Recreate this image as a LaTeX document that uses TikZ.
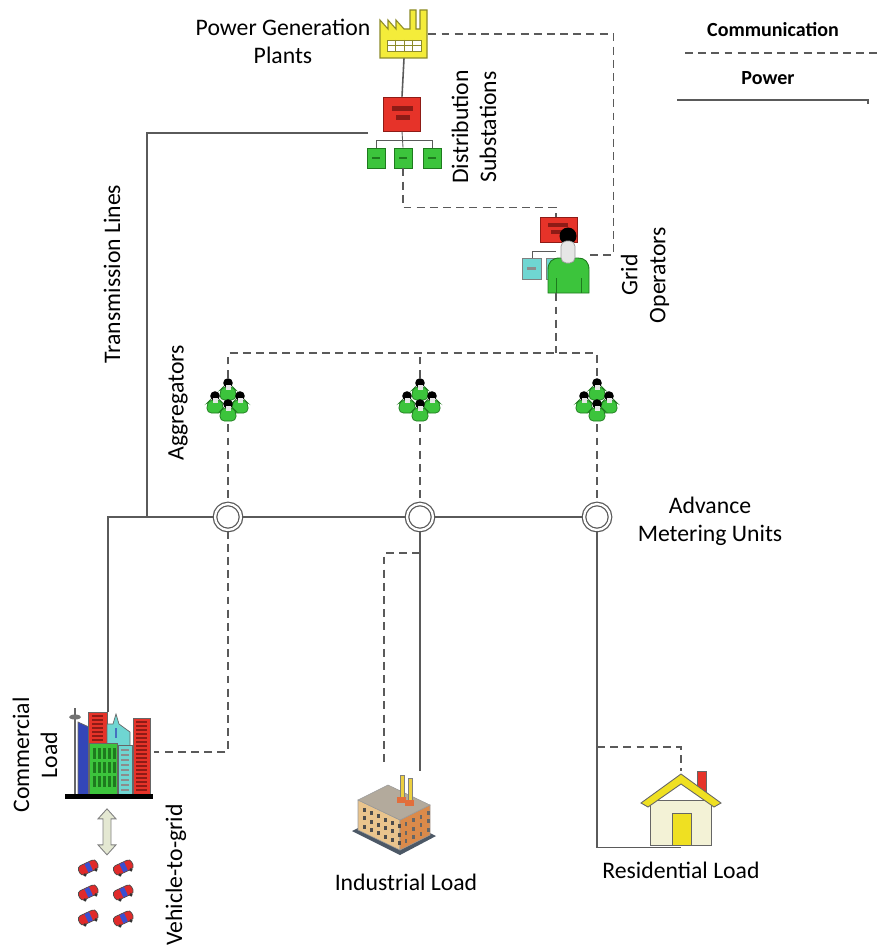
\documentclass[tikz,border=0pt]{standalone}
\usepackage{fontspec}
\setmainfont{Carlito}
\usetikzlibrary{calc}

\definecolor{wire}{HTML}{5A5A5A}
\definecolor{plantyellow}{HTML}{F4EC3A}
\definecolor{plantedge}{HTML}{8C8A2A}
\definecolor{subred}{HTML}{E63329}
\definecolor{subdark}{HTML}{8E1B16}
\definecolor{boxgreen}{HTML}{3CC43C}
\definecolor{boxdark}{HTML}{1E7A1E}
\definecolor{boxcyan}{HTML}{6FD6D2}
\definecolor{facegray}{HTML}{E6E6E6}
\definecolor{towerblue}{HTML}{3346B8}
\definecolor{carred}{HTML}{E02A2A}
\definecolor{carblue}{HTML}{3A4FD0}
\definecolor{arrowfill}{HTML}{E4E8D2}
\definecolor{walltan}{HTML}{E9C48D}
\definecolor{wallorange}{HTML}{DB8A4A}
\definecolor{roofgray}{HTML}{B3AA9C}
\definecolor{slate}{HTML}{4C5866}
\definecolor{housebody}{HTML}{F3F2D6}
\definecolor{houseyellow}{HTML}{EFE022}

\tikzset{
  power/.style={draw=wire, line width=0.9pt},
  comm/.style={draw=wire, line width=0.9pt, dash pattern=on 4.5pt off 3pt},
  lbl/.style={font=\fontsize{13.5}{16}\selectfont, align=center, inner sep=0pt},
  leg/.style={font=\fontsize{11.4}{13}\selectfont\bfseries, inner sep=0pt},
  icon/.style 2 args={inner sep=0pt, minimum width=#1*0.02cm, minimum height=#2*0.02cm},
  amu/.style={circle, draw=wire, double, double distance=1.3pt, line width=0.7pt,
    fill=white, inner sep=0pt, minimum size=0.52cm},
  gbox/.style={draw=boxdark, fill=boxgreen, line width=0.5pt, inner sep=0pt,
    minimum width=0.36cm, minimum height=0.4cm},
  person/.pic={
    \filldraw[fill=boxgreen, draw=boxdark, line width=0.4pt, rounded corners=2.5]
      (-8,17) -- (-8,7) -- (-5,4) -- (5,4) -- (8,7) -- (8,17) -- cycle;
    \fill[black] (0,0) circle (4.8);
    \fill[facegray] (-2.5,1.5) rectangle (2.5,6.5);
  },
  car/.pic={
    \filldraw[fill=carred, draw=black!70, line width=0.4pt, rounded corners=2]
      (-10,-4.5) rectangle (10,5.5);
    \fill[carblue] (-2,-4) rectangle (3,5);
    \fill[black!80] (-6,6) circle (1.8) (6,6) circle (1.8);
  },
}

\begin{document}
\begin{tikzpicture}[x=0.02cm, y=-0.02cm]
\useasboundingbox (0,0) rectangle (878,946);

% Legend
\node[leg] (lcomm) at (773,30) {Communication};
\node[leg] (lpow) at (768,78) {Power};
\coordinate (c1) at (685,53);
\coordinate (c2) at (878,53);
\coordinate (p1) at (677,100);
\coordinate (p2) at (868,104);
\draw[comm] (c1) -- (c2);
\draw[power] (p1) -| (p2);

% Power plant
\node[icon={48}{48}] (plant) at (404,34) {};
\filldraw[fill=plantyellow, draw=plantedge, line width=0.6pt]
  (380,58) -- (380,20) -- (388,29) -- (388,20) -- (396,29) -- (396,20) -- (404,29)
  -- (410,29) -- (410,10) -- (416,10) -- (416,29) -- (420,29) -- (420,10)
  -- (427,10) -- (427,58) -- cycle;
\filldraw[fill=white, draw=plantedge, line width=0.5pt] (387,40) rectangle (421,51);
\draw[plantedge, line width=0.4pt] (395.5,40) -- (395.5,51) (404,40) -- (404,51)
  (412.5,40) -- (412.5,51) (387,45.5) -- (421,45.5);

% Substation
\node[draw=subdark, fill=subred, line width=0.5pt, icon={37}{34}] (sub) at (402,114) {};
\fill[subdark] (392,106) rectangle (413,111);
\fill[subdark] (396,115) rectangle (410,120);
\node[gbox] (gb1) at (376,158) {};
\node[gbox] (gb2) at (403,158) {};
\node[gbox] (gb3) at (432,158) {};
\foreach \g in {gb1,gb2,gb3}
  \fill[boxdark] ($(\g)+(-4,-1)$) rectangle ($(\g)+(4,1)$);
\draw[wire, line width=0.5pt] (sub.south) -- (gb2.north);
\draw[wire, line width=0.5pt] (gb1.north) |- ($(sub.south)+(0,9)$) -| (gb3.north);

% Grid operator
\node[icon={68}{76}] (oper) at (556,255) {};
\filldraw[fill=subred, draw=subdark, line width=0.5pt] (540,217) rectangle (577,242);
\fill[subdark] (548,223) rectangle (568,227);
\fill[subdark] (551,230) rectangle (566,234);
\draw[wire, line width=0.5pt] (532,258) -- (532,251) -- (556,251);
\filldraw[fill=boxcyan, draw=black!50, line width=0.5pt] (546,258) rectangle (562,279);
\filldraw[fill=boxcyan, draw=black!50, line width=0.5pt] (522,258) rectangle (541,279);
\fill[black!45] (527,267) rectangle (536,270);
\fill[black] (568,236) circle (8.5);
\filldraw[fill=boxgreen, draw=boxdark, line width=0.5pt]
  (548,293) -- (548,270) .. controls (548,262) and (552,258) .. (560,258)
  -- (578,258) .. controls (585,258) and (589,262) .. (589,270) -- (589,293) -- cycle;
\draw[boxdark, line width=0.5pt] (556,278) -- (556,293) (581,278) -- (581,293);
\filldraw[fill=facegray, draw=black!40, line width=0.4pt, rounded corners=3]
  (561,241) rectangle (575,263);

% Aggregators
\node[icon={46}{46}] (agg1) at (228,401) {};
\node[icon={46}{46}] (agg2) at (420,401) {};
\node[icon={46}{46}] (agg3) at (597,401) {};
\foreach \n in {agg1,agg2,agg3} {
  \pic at ($(\n)+(0,-18)$) {person};
  \pic at ($(\n)+(-13,-5)$) {person};
  \pic at ($(\n)+(12,-5)$) {person};
  \pic at ($(\n)+(0,3)$) {person};
}

% Advance metering units
\node[amu] (amu1) at (228,517) {};
\node[amu] (amu2) at (420,517) {};
\node[amu] (amu3) at (597,517) {};

% Commercial load
\node[icon={90}{95}] (comm) at (109,752) {};
\draw[black!60, line width=1pt] (75,708) -- (75,795);
\fill[black!55] (75,717) ellipse (6 and 2.5);
\filldraw[fill=towerblue, draw=black!60, line width=0.4pt]
  (78,795) -- (78,722) -- (100,732) -- (100,795) -- cycle;
\filldraw[fill=subred, draw=black!60, line width=0.4pt] (88,795) rectangle (107,712);
\foreach \y in {716,720,...,740} \draw[subdark, line width=0.6pt] (92,\y) -- (103,\y);
\filldraw[fill=boxcyan, draw=black!60, line width=0.4pt]
  (107,795) -- (107,724) -- (113,724) -- (116,714) -- (119,724) -- (130,732) -- (130,795) -- cycle;
\fill[towerblue!70!boxcyan] (115,728) rectangle (117,738);
\filldraw[fill=boxgreen, draw=black!60, line width=0.4pt] (89,795) rectangle (117,743);
\foreach \x in {93,98,...,113} \foreach \y in {748,762,776}
  \fill[boxdark] (\x,\y) rectangle ++(2.5,11);
\filldraw[fill=boxcyan, draw=black!60, line width=0.4pt] (118,795) rectangle (132,745);
\foreach \y in {750,755,...,790} \draw[black!45, line width=0.8pt] (121,\y) -- (129,\y);
\filldraw[fill=subred, draw=black!60, line width=0.4pt] (133,795) rectangle (150,718);
\foreach \y in {722,726,...,790} \draw[subdark, line width=0.6pt] (136,\y) -- (147,\y);
\fill[black] (65,794) rectangle (153,799);

% Vehicles
\node[icon={50}{66}] (cars) at (106,892) {};
\foreach \cx/\cy in {88/867, 123/867, 88/892, 123/892, 88/917, 123/918}
  \pic[rotate=25] at (\cx,\cy) {car};
\filldraw[fill=arrowfill, draw=black!50, line width=0.5pt]
  ($(comm.south)+(-2,9)$) -- ++(9,10) -- ++(-5,0) -- ++(0,26) -- ++(5,0) -- ++(-9,10)
  -- ++(-9,-10) -- ++(5,0) -- ++(0,-26) -- ++(-5,0) -- cycle;

% Industrial load
\node[icon={85}{85}] (ind) at (392,814) {};
\fill[slate] (352,831) -- (400,855) -- (436,836) -- (388,813) -- cycle;
\filldraw[fill=walltan, draw=black!40, line width=0.3pt]
  (358,800) -- (400,820) -- (400,850) -- (358,830) -- cycle;
\filldraw[fill=wallorange, draw=black!40, line width=0.3pt]
  (400,820) -- (430,805) -- (430,835) -- (400,850) -- cycle;
\filldraw[fill=roofgray, draw=black!40, line width=0.3pt]
  (358,800) -- (400,820) -- (430,805) -- (388,785) -- cycle;
\foreach \i in {0,...,5} \foreach \j in {0,1,2}
  \fill[black!70] ({359.5+(\i+0.5)*7},{806+(\i+0.5)*3.33+\j*8.5}) rectangle ++(2.5,4);
\foreach \i in {0,...,3} \foreach \j in {0,1,2}
  \fill[black!60] ({401+(\i+0.5)*7.5},{824-(\i+0.5)*3.75+\j*8.5}) rectangle ++(2.5,4);
\filldraw[fill=plantyellow!70!wallorange, draw=black!50, line width=0.3pt] (400,775) rectangle (404,800);
\filldraw[fill=plantyellow!70!wallorange, draw=black!50, line width=0.3pt] (408,778) rectangle (412,803);
\fill[wallorange!80!red] (397,797) rectangle (406,803);
\fill[wallorange!80!red] (405,800) rectangle (414,806);

% Residential load
\node[icon={80}{76}] (house) at (681,809) {};
\filldraw[fill=subred, draw=black!60, line width=0.4pt] (697,771) rectangle (706,795);
\filldraw[fill=housebody, draw=black!60, line width=0.5pt] (650,845) rectangle (711,800);
\filldraw[fill=houseyellow, draw=black!60, line width=0.5pt]
  (641,803) -- (681,774) -- (721,803) -- (714,807) -- (681,784) -- (648,807) -- cycle;
\filldraw[fill=houseyellow, draw=black!60, line width=0.5pt] (672,813) rectangle (691,845);

% Power lines
\coordinate (feed) at (368,133);
\coordinate (tx) at (147,517);
\coordinate (ctop) at (108,712);
\draw[power] (plant.south) -- (sub.north);
\draw[power] (feed) -| (tx);
\draw[power] (ctop) |- (amu1);
\draw[power] (amu1) -- (amu2) -- (amu3);
\draw[power] (amu2.south) -- (amu2.south |- ind.north);
\draw[power] (amu3.south) |- (house.south);

% Communication lines
\coordinate (itap) at (420,553);
\coordinate (iend) at (384,766);
\coordinate (rtap) at (597,747);
\coordinate (cbus) at (0,353);
\draw[comm] (plant.east) -| ($(oper.east)+(23,0)$) -- (oper.east);
\draw[comm] (gb2.south) -- ++(0,39) -| (oper.north);
\draw[comm] (oper.south) -- (oper.south |- cbus);
\draw[comm] (agg1.north) -- (agg1.north |- cbus) -- (agg3.north |- cbus) -- (agg3.north);
\draw[comm] (agg2.north) -- (agg2.north |- cbus);
\foreach \k in {1,2,3}
  \draw[comm] (agg\k.south) -- (amu\k.north);
\draw[comm] (amu1.south) |- (comm.east);
\draw[comm] (itap) -| (iend);
\draw[comm] (rtap) -| (house.north);

% Labels
\node[lbl] (lplant) at (283,41) {Power Generation\\Plants};
\node[lbl, rotate=90] (lsub) at (474,127) {Distribution\\Substations};
\node[lbl, rotate=90] (lop) at (645,275) {Grid\\Operators};
\node[lbl, rotate=90] (ltx) at (112,274) {Transmission Lines};
\node[lbl, rotate=90] (lagg) at (178,403) {Aggregators};
\node[lbl] (lamu) at (710,521) {Advance\\Metering Units};
\node[lbl, rotate=90] (lcom) at (35,755) {Commercial\\Load};
\node[lbl, rotate=90] (lv2g) at (176,875) {Vehicle-to-grid};
\node[lbl] (lind) at (406,882) {Industrial Load};
\node[lbl] (lres) at (681,870) {Residential Load};
\end{tikzpicture}
\end{document}
